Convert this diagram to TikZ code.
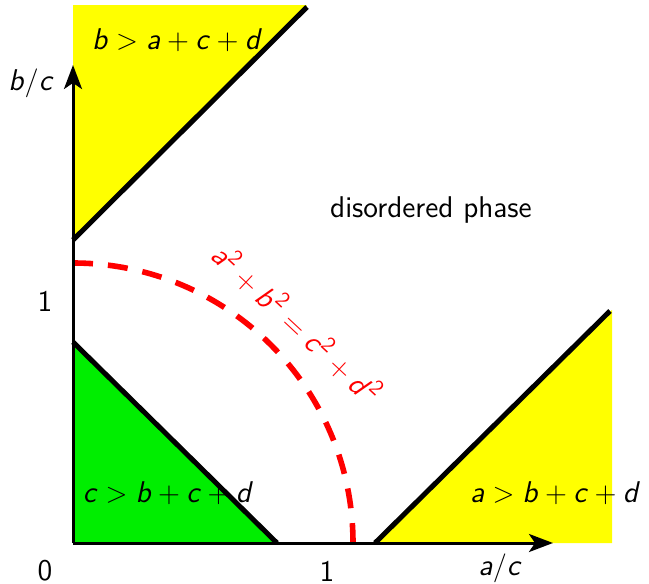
\documentclass[tikz,border=0pt]{standalone}
\usetikzlibrary{arrows.meta}
\definecolor{yel}{RGB}{255,255,0}
\definecolor{grn}{RGB}{0,238,0}
\newcommand{\sv}[1]{\textsf{\textit{#1}}}
\newcommand{\stwo}{^{\mathsf{2}}}
\tikzset{
  bound/.style={line width=2.5pt},
  axis/.style={line width=1.5pt,-{Stealth[length=12pt,width=9pt,inset=3pt]}},
  lbl/.style={font=\fontsize{15}{17}\selectfont\sffamily},
  arclbl/.style={font=\fontsize{15}{17}\selectfont\sffamily,text=red},
}
\begin{document}
\begin{tikzpicture}[x=0.5pt,y=-0.5pt]
\useasboundingbox (0,0) rectangle (649,584);
\coordinate (O) at (73,543);
\coordinate (xend) at (553,543);
\coordinate (yend) at (73,65);
% fills
\fill[yel] (73,5) -- (307,5) -- (73,240) -- cycle;
\fill[yel] (375,543) -- (612,310) -- (612,543) -- cycle;
\fill[grn] (73,543) -- (73,342) -- (277,543) -- cycle;
% boundaries
\draw[bound] (73,240) -- (307,7);
\draw[bound] (375,543) -- (610,311);
\draw[bound] (73,342) -- (277,543);
% dashed arc
\draw[red,line width=2.8pt,dash pattern=on 10pt off 7.5pt] (73,263) arc[start angle=90,end angle=0,radius=140pt];
% axes
\draw[line width=1.5pt] (O) -- (73,340);
\draw[axis] (O) -- (xend);
\draw[axis] (O) -- (yend);
% labels
\node[lbl] (blab) at (177,40) {$\sv{b} > \sv{a} + \sv{c} + \sv{d}$};
\node[lbl] (clab) at (168,493) {$\sv{c} > \sv{b} + \sv{c} + \sv{d}$};
\node[lbl] (alab) at (555,493) {$\sv{a} > \sv{b} + \sv{c} + \sv{d}$};
\node[lbl] (dis) at (431,210) {disordered phase};
\node[lbl] (bc) at (31,83) {$\sv{b}/\sv{c}$};
\node[lbl] (ac) at (500,568) {$\sv{a}/\sv{c}$};
\node[lbl] (zero) at (45,571) {\textsf{0}};
\node[lbl] (onex) at (327,571) {\textsf{1}};
\node[lbl] (oney) at (45,301) {\textsf{1}};
\node[arclbl,rotate=-43] (eq) at (297,323) {$\sv{a}\stwo + \sv{b}\stwo = \sv{c}\stwo + \sv{d}\stwo$};
\end{tikzpicture}
\end{document}
